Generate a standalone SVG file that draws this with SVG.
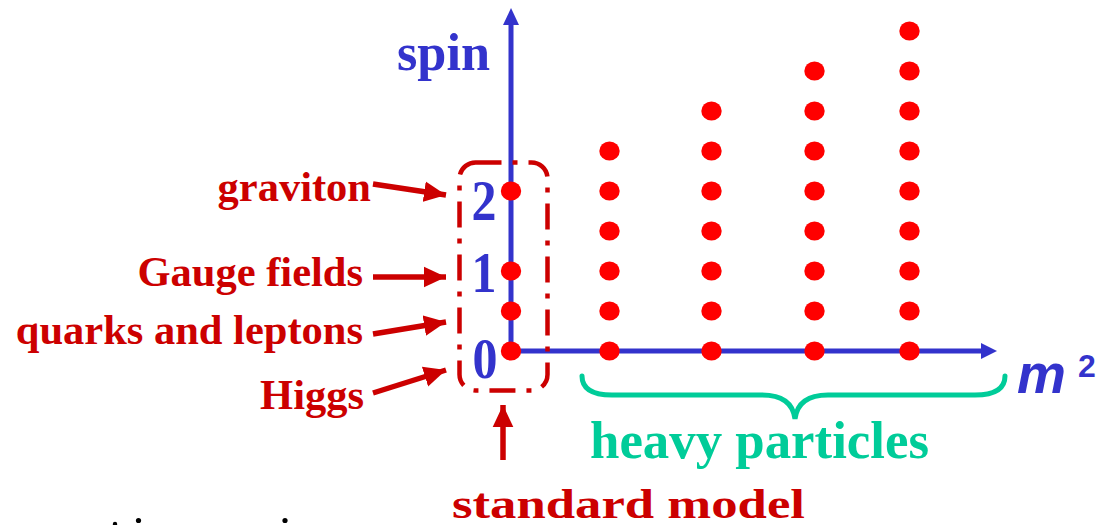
<svg xmlns="http://www.w3.org/2000/svg" width="1101" height="525" viewBox="0 0 1101 525">
<style>
.blue{fill:#3333cc;font-family:"Liberation Serif",serif;font-weight:bold}
.red{fill:#cc0000;font-family:"Liberation Serif",serif;font-weight:bold;font-size:42.5px}
.green{fill:#00cc99;font-family:"Liberation Serif",serif;font-weight:bold;font-size:52px}
.dot{fill:#ff0000}
.axis{stroke:#3333cc;stroke-width:5;fill:none}
.rarrow{stroke:#cc0000;stroke-width:5.5;fill:none}
</style>
<defs>
<marker id="rhead" markerWidth="4" markerHeight="4" refX="3.2" refY="1.5" orient="auto" markerUnits="strokeWidth" viewBox="0 0 3.2 3">
<polygon points="0,0 3.2,1.5 0,3" fill="#cc0000"/>
</marker>
<ellipse id="d" rx="10.2" ry="9.6"/>
</defs>
<rect width="1101" height="525" fill="#ffffff"/>

<g id="axes">
<path class="axis" d="M511,24 L511,351 L983,351" stroke-linejoin="miter"/>
<polygon points="511,8 503,25 519,25" fill="#3333cc"/>
<polygon points="997,351 981,343 981,359" fill="#3333cc"/>
</g>

<g id="axis-labels">
<text class="blue" font-size="52" x="397" y="70" textLength="93" lengthAdjust="spacingAndGlyphs">spin</text>
<text class="blue" font-size="50" text-anchor="middle" transform="translate(484,220) scale(1,1.12)">2</text>
<text class="blue" font-size="50" text-anchor="middle" transform="translate(484,292) scale(1,1.12)">1</text>
<text class="blue" font-size="50" text-anchor="middle" transform="translate(485,378) scale(1,1.12)">0</text>
<text x="1017" y="393" fill="#3333cc" font-family="'Liberation Sans',sans-serif" font-weight="bold" font-style="italic" font-size="55">m</text>
<text x="1078" y="377" fill="#3333cc" font-family="'Liberation Sans',sans-serif" font-weight="bold" font-size="32">2</text>
</g>

<g id="standard-model-box">
<rect x="459.5" y="162.5" width="88" height="228" rx="16" ry="16" fill="none" stroke="#cc0000" stroke-width="4.5" stroke-dasharray="26 11 5 11"/>
</g>

<g id="dots-col0" class="dot">
<use href="#d" x="511" y="191"/><use href="#d" x="511" y="271"/><use href="#d" x="511" y="311"/><use href="#d" x="511" y="351"/>
</g>
<g id="dots-col1" class="dot">
<use href="#d" x="609.5" y="151"/><use href="#d" x="609.5" y="191"/><use href="#d" x="609.5" y="231"/><use href="#d" x="609.5" y="271"/><use href="#d" x="609.5" y="311"/><use href="#d" x="609.5" y="351"/>
</g>
<g id="dots-col2" class="dot">
<use href="#d" x="711.5" y="111"/><use href="#d" x="711.5" y="151"/><use href="#d" x="711.5" y="191"/><use href="#d" x="711.5" y="231"/><use href="#d" x="711.5" y="271"/><use href="#d" x="711.5" y="311"/><use href="#d" x="711.5" y="351"/>
</g>
<g id="dots-col3" class="dot">
<use href="#d" x="814.5" y="71"/><use href="#d" x="814.5" y="111"/><use href="#d" x="814.5" y="151"/><use href="#d" x="814.5" y="191"/><use href="#d" x="814.5" y="231"/><use href="#d" x="814.5" y="271"/><use href="#d" x="814.5" y="311"/><use href="#d" x="814.5" y="351"/>
</g>
<g id="dots-col4" class="dot">
<use href="#d" x="909.5" y="31"/><use href="#d" x="909.5" y="71"/><use href="#d" x="909.5" y="111"/><use href="#d" x="909.5" y="151"/><use href="#d" x="909.5" y="191"/><use href="#d" x="909.5" y="231"/><use href="#d" x="909.5" y="271"/><use href="#d" x="909.5" y="311"/><use href="#d" x="909.5" y="351"/>
</g>

<g id="label-graviton"><text class="red" x="371" y="201" text-anchor="end">graviton</text></g>
<g id="label-gauge"><text class="red" x="363" y="286" text-anchor="end">Gauge fields</text></g>
<g id="label-quarks"><text class="red" x="363" y="344" text-anchor="end">quarks and leptons</text></g>
<g id="label-higgs"><text class="red" x="364" y="409" text-anchor="end">Higgs</text></g>
<g id="label-standard-model"><text class="red" x="452" y="518" font-size="53" textLength="353" lengthAdjust="spacingAndGlyphs">standard model</text></g>
<g id="label-heavy"><text class="green" x="590" y="458" textLength="339" lengthAdjust="spacingAndGlyphs">heavy particles</text></g>

<g id="connectors">
<line class="rarrow" x1="373" y1="184" x2="446" y2="195" marker-end="url(#rhead)"/>
<line class="rarrow" x1="373" y1="277" x2="446" y2="277" marker-end="url(#rhead)"/>
<line class="rarrow" x1="373" y1="334" x2="446" y2="322" marker-end="url(#rhead)"/>
<line class="rarrow" x1="373" y1="393" x2="446" y2="370" marker-end="url(#rhead)"/>
<line class="rarrow" x1="503" y1="460" x2="503" y2="405" marker-end="url(#rhead)"/>
<path d="M582,376 C582,390 594,395 612,395 L762,395 C782,395 793,403 795,419 C797,403 808,395 828,395 L975,395 C993,395 1005,390 1005,376" fill="none" stroke="#00cc99" stroke-width="5" stroke-linecap="round"/>
</g>

<g id="cut-off-marks" fill="#000000">
<circle cx="115" cy="524" r="2.2"/>
<circle cx="138.5" cy="520.5" r="2.6"/>
<circle cx="285" cy="520.5" r="2.6"/>
</g>
</svg>
